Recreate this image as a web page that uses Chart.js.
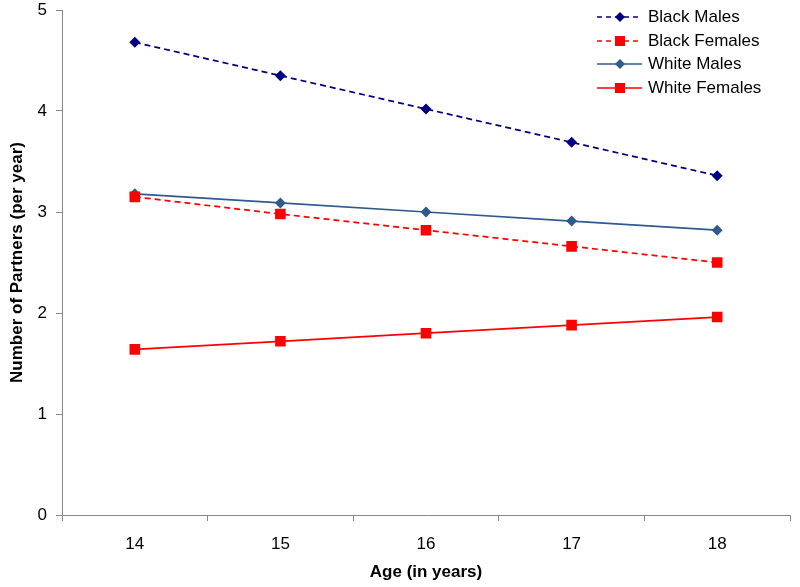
<!DOCTYPE html>
<html>
<head>
<meta charset="utf-8">
<script src="https://cdn.jsdelivr.net/npm/chart.js@4/dist/chart.umd.min.js"></script>
<style>
  html, body { margin: 0; padding: 0; background: #fff; }
  #wrap { position: relative; width: 800px; height: 587px; }
  #legend { position: absolute; left: 596px; top: 5px; font: 17px "Liberation Sans", Arial, sans-serif; color: #000; }
  #legend div { height: 23.7px; display: flex; align-items: center; }
  #legend svg { margin-right: 6px; }
</style>
</head>
<body>
<div id="wrap">
  <canvas id="chart" width="800" height="587"></canvas>
  <div id="legend"></div>
</div>
<script>
    const ages = ["14", "15", "16", "17", "18"];
    const blackMales = [4.68, 4.35, 4.02, 3.69, 3.36];
    const blackFemales = [3.15, 2.98, 2.82, 2.66, 2.50];
    const whiteMales = [3.18, 3.09, 3.00, 2.91, 2.82];
    const whiteFemales = [1.64, 1.72, 1.80, 1.88, 1.96];

    const axisColor = "#888888";
    const font = "'Liberation Sans', Arial, sans-serif";

    // one entry per line
    const series = [
      { label: "Black Males", data: blackMales, color: "#000080", shape: "rectRot", dash: [6, 4], radius: 5.5 },
      { label: "Black Females", data: blackFemales, color: "#FF0000", shape: "rect", dash: [6, 4], radius: 7.5 },
      { label: "White Males", data: whiteMales, color: "#2E5B8C", shape: "rectRot", dash: [], radius: 5.5 },
      { label: "White Females", data: whiteFemales, color: "#FF0000", shape: "rect", dash: [], radius: 7.5 }
    ];

    const ctx = document.getElementById("chart").getContext("2d");
    const chart = new Chart(ctx, {
      type: "line",
      data: {
        labels: ages,
        datasets: series.map(s => ({
          label: s.label,
          data: s.data,
          borderColor: s.color,
          backgroundColor: s.color,
          borderWidth: 1.75,
          borderDash: s.dash,
          pointStyle: s.shape,
          pointRadius: s.radius,
          pointBorderWidth: 0,
          tension: 0
        }))
      },
      options: {
        responsive: false,
        animation: false,
        layout: { padding: { top: 10, right: 10, left: 0, bottom: 0 } },
        plugins: { legend: { display: false }, tooltip: { enabled: false } },
        scales: {
          x: {
            offset: true,
            grid: { display: true, drawOnChartArea: false, offset: true, tickLength: 6, color: axisColor },
            border: { color: axisColor, width: 1 },
            ticks: { color: "#000", font: { family: font, size: 17 }, padding: 13 },
            title: { display: true, text: "Age (in years)", color: "#000", font: { family: font, size: 17, weight: "bold" }, padding: { top: 4, bottom: 4 } },
            afterFit: (scale) => { scale.height = 72; scale.paddingLeft = 0; scale.paddingRight = 0; }
          },
          y: {
            min: 0,
            max: 5,
            ticks: { stepSize: 1, color: "#000", font: { family: font, size: 17 }, padding: 9 },
            grid: { display: true, drawOnChartArea: false, tickLength: 6, color: axisColor },
            border: { color: axisColor, width: 1 },
            title: { display: true, text: "Number of Partners (per year)", color: "#000", font: { family: font, size: 17, weight: "bold" }, padding: { top: 7, bottom: 4 } },
            afterFit: (scale) => { scale.width = 62; scale.paddingTop = 0; scale.paddingBottom = 0; }
          }
        }
      }
    });

    // HTML legend built from the series
    const legend = document.getElementById("legend");
    series.forEach(s => {
      const row = document.createElement("div");
      const dash = s.dash.length ? ' stroke-dasharray="5,4"' : "";
      let marker;
      if (s.shape === "rect") {
        marker = `<rect x="19" y="6" width="10" height="10" fill="${s.color}"/>`;
      } else {
        marker = `<polygon points="24,6 29,11 24,16 19,11" fill="${s.color}"/>`;
      }
      row.innerHTML = `<svg width="46" height="22"><line x1="1" y1="11" x2="46" y2="11" stroke="${s.color}" stroke-width="1.5"${dash}/>${marker}</svg><span>${s.label}</span>`;
      legend.appendChild(row);
    });
</script>
</body>
</html>
